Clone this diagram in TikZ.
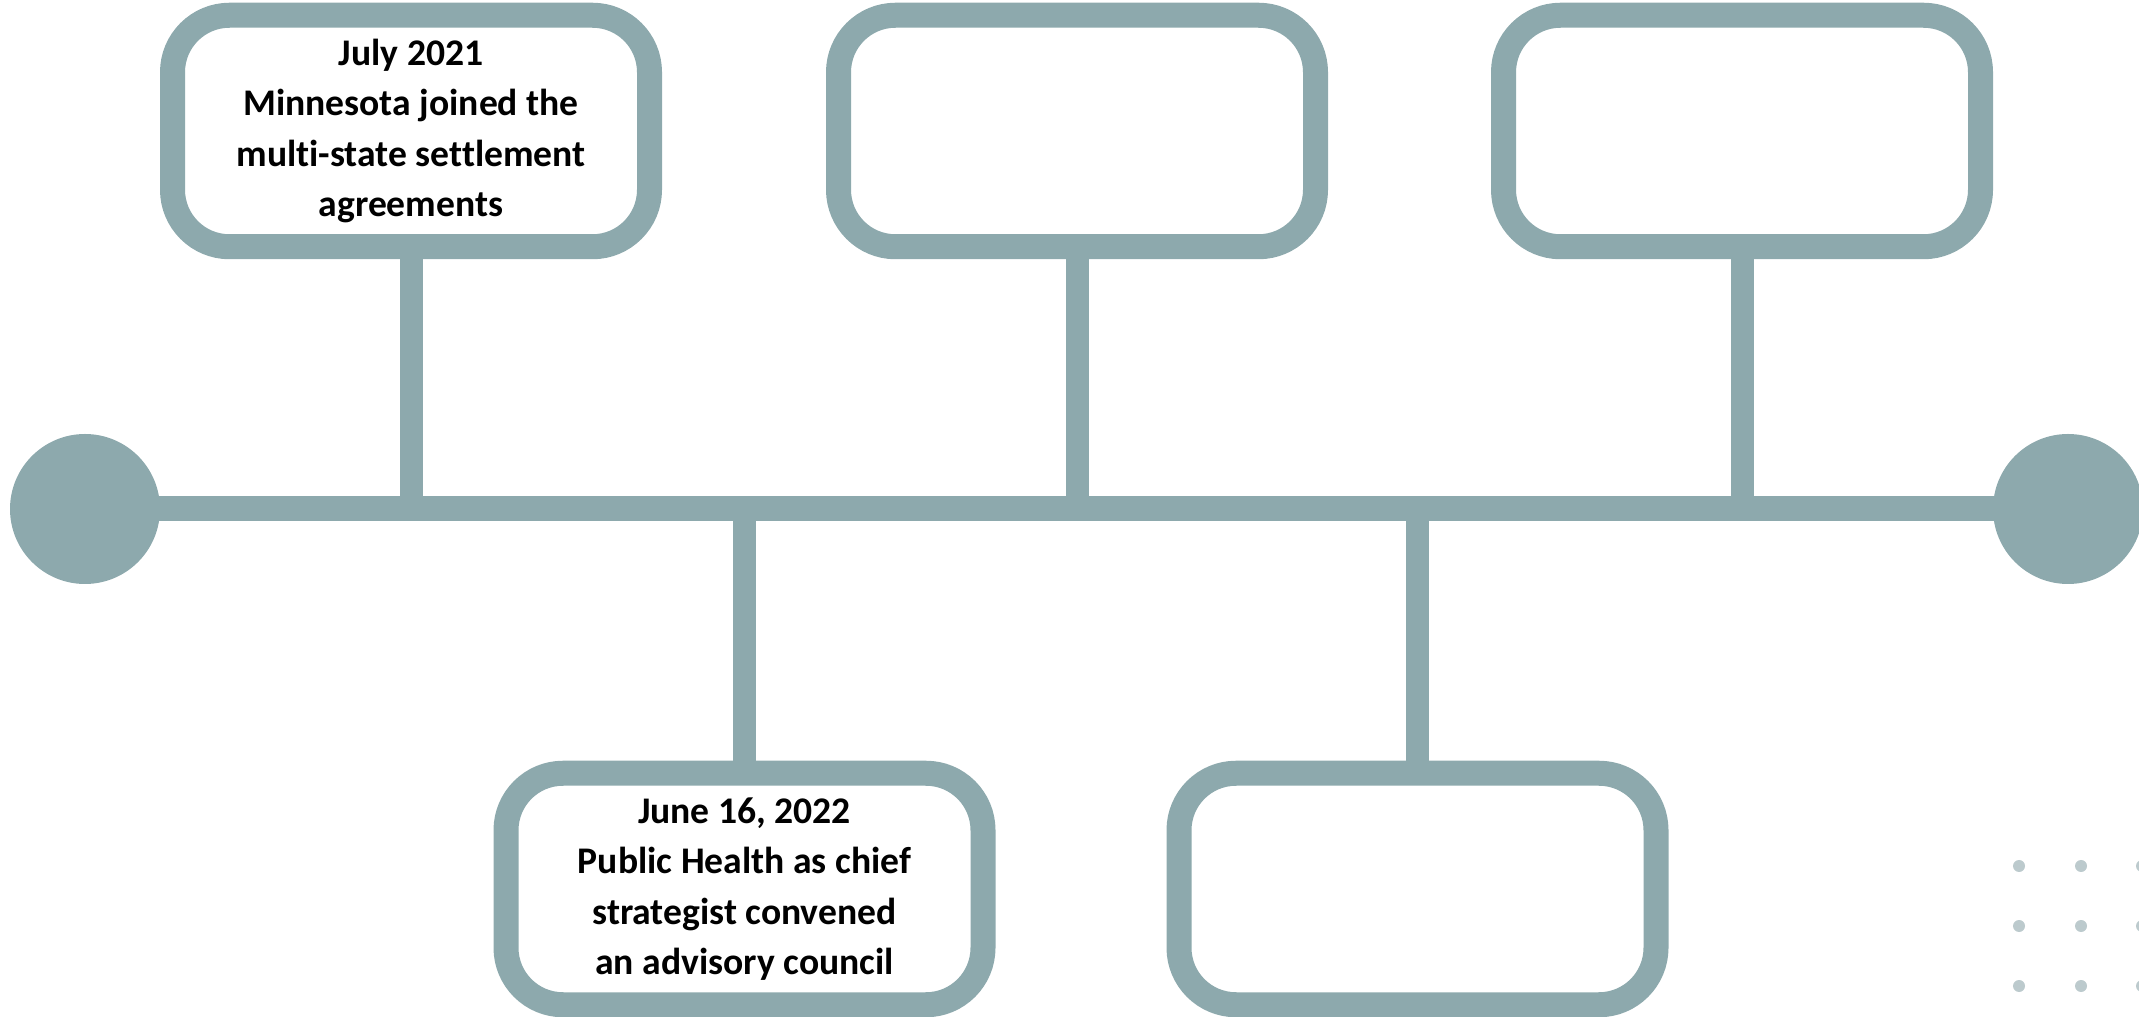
\documentclass[tikz,border=0pt]{standalone}
\usepackage{fontspec}
\setmainfont{Carlito}[RawFeature=-liga]
\usepackage{tikz}
\usetikzlibrary{positioning}

\definecolor{slate}{HTML}{8DA9AD}
\definecolor{dotgrey}{HTML}{BCCACD}

\tikzset{
    event/.style={draw=slate, line width=0.25cm, fill=white, rounded corners=0.57cm,
        minimum width=4.77cm, minimum height=2.315cm, align=center,
        font=\fontsize{10.7}{14.3}\selectfont\bfseries},
    endcap/.style={circle, fill=slate, minimum size=1.5cm, inner sep=0pt},
    stem/.style={draw=slate, line width=0.23cm},
}

\begin{document}
\begin{tikzpicture}
        \useasboundingbox (0,0) rectangle (21.39,10.16);
        \node[endcap] (start) at (0.85,5.07) {};
        \node[endcap] (stop) at (20.68,5.07) {};
        \draw[slate, line width=0.25cm] (start.center) -- (stop.center);
        % points where the stems meet the time line
        \coordinate (t1) at (4.11,5.07);
        \coordinate (t2) at (10.77,5.07);
        \coordinate (t3) at (17.42,5.07);
        \coordinate (t4) at (7.445,5.07);
        \coordinate (t5) at (14.175,5.07);
        \node[event] (jul21) at (4.11,8.85) {July 2021\\Minnesota joined the\\multi-state settlement\\agreements};
        \node[event] (top2) at (10.77,8.85) {};
        \node[event] (top3) at (17.42,8.85) {};
        \node[event] (jun22) at (7.445,1.27) {June 16, 2022\\Public Health as chief\\strategist convened\\an advisory council};
        \node[event] (bot2) at (14.175,1.27) {};
        \draw[stem] (jul21.south) -- (t1);
        \draw[stem] (top2.south) -- (t2);
        \draw[stem] (top3.south) -- (t3);
        \draw[stem] (jun22.north) -- (t4);
        \draw[stem] (bot2.north) -- (t5);
        \foreach \x in {20.19,20.81,21.42}
            \foreach \y in {1.50,0.90,0.30}
                \fill[dotgrey] (\x,\y) circle (0.06);
\end{tikzpicture}
\end{document}
